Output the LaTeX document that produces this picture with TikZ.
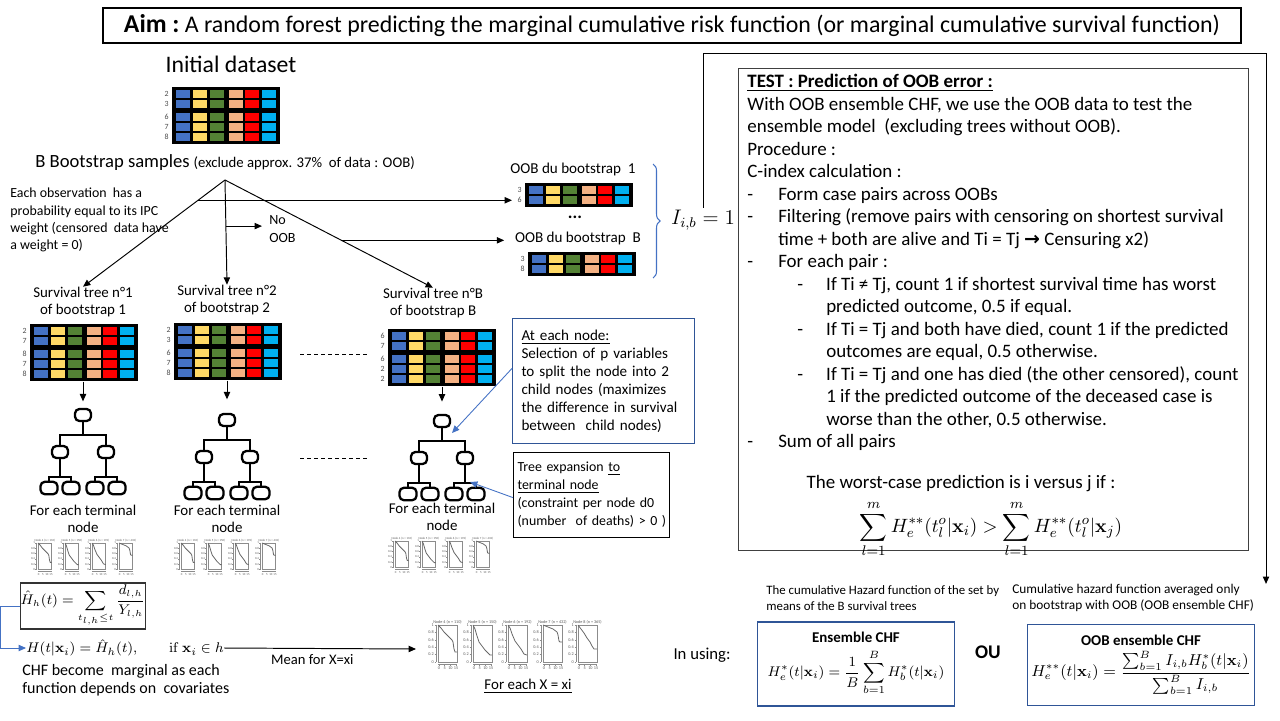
\documentclass[tikz,border=0pt]{standalone}
\usepackage{amsmath}
\usepackage[no-math]{fontspec}
\setmainfont{Carlito}
\newfontfamily\symfont{DejaVu Sans}
\usetikzlibrary{arrows.meta,positioning,calc,decorations.pathreplacing}

\definecolor{cblue}{HTML}{4472C4}
\definecolor{cyellow}{HTML}{FFD966}
\definecolor{cgreen}{HTML}{548235}
\definecolor{csalmon}{HTML}{F4B183}
\definecolor{cred}{HTML}{FF0000}
\definecolor{ccyan}{HTML}{00B0F0}
\definecolor{boxblue}{HTML}{2F5597}

\newcommand{\fs}[2]{\fontsize{#1}{#2}\selectfont}
\newcommand{\itemA}{\makebox[17.6pt][l]{-}}
\newcommand{\contA}{\hspace*{17.6pt}}
\newcommand{\itemB}{\hspace*{28.4pt}\makebox[16.5pt][l]{-}}
\newcommand{\contB}{\hspace*{44.9pt}}

% data table: name, x, y (top left), number of rows, row labels
\newcommand{\datatable}[5]{%
  \node[tablebg, anchor=north west, minimum height={(10*#4+4+3*(#4>2))*0.02cm}] (#1) at (#2,#3) {};
  \foreach \lab [count=\ri] in {#5} {
    \pgfmathsetmacro{\ry}{#3+7+10*(\ri-1)+3*(\ri>2)}
    \node[rowlab] (#1-\ri) at (#2-3,\ry) {\lab};
    \foreach \cx/\cc in {11/cblue,28/cyellow,45/cgreen,64/csalmon,80/cred,97/ccyan}
      \fill[\cc] (#2+\cx-7,\ry-4) rectangle (#2+\cx+7,\ry+4);
  }
}

% tree icon: name of root, x, y of root
\newcommand{\treeicon}[3]{%
  \begin{scope}[shift={(#2,#3)}]
    \node[tbox] (#1) at (0,0) {};
    \draw[tline] (0,6.5) -- (0,20);
    \draw[tline] (-23,30.5) |- (23,20) -- (23,30.5);
    \foreach \sg in {-1,1} {
      \node[tbox] at (23*\sg,37) {};
      \draw[tline] (23*\sg,43.5) -- (23*\sg,62);
      \draw[tline] (23*\sg-11,66.5) |- (23*\sg+11,62) -- (23*\sg+11,66.5);
      \node[lbox] at (23*\sg-11,73) {};
      \node[lbox] at (23*\sg+11,73) {};
    }
  \end{scope}}

% survival curve: x, y (top left of frame), scale, title, curve
\newcommand{\kmplot}[5]{%
  \begin{scope}[shift={(#1,#2)}, scale=#3,
      every node/.style={transform shape, inner sep=0pt, font=\fs{2.4}{2.6}, text=black!65}]
    \draw[pframe] (0,0) rectangle (19,37);
    \draw[pframe] (-2,0) -- (-2,37);
    \foreach \yv in {0,0.2,0.4,0.6,0.8,1} {
      \draw[pframe] (-3.5,{37*(1-\yv)}) -- (-2,{37*(1-\yv)});
      \node[anchor=east] at (-4,{37*(1-\yv)}) {\yv};
    }
    \draw[pframe] (0,39) -- (19,39);
    \foreach \xv/\xp in {0/1,5/6.7,10/12.4,15/18.1} {
      \draw[pframe] (\xp,39) -- (\xp,40.5);
      \node[anchor=north] at (\xp,41.5) {\xv};
    }
    \node[anchor=south] at (9.5,-0.8) {#4};
    \draw[pcurve] plot coordinates {#5};
  \end{scope}}

\def\curveA{(0,0) (3,3) (6,7) (9,10) (12,13) (14,15) (15,17) (16,24) (17,27) (19,27)}
\def\curveB{(0,0) (2,4) (4,11) (6,17) (9,21) (12,25) (15,28) (17,30) (19,30)}
\def\curveC{(0,0) (2,3) (4,9) (7,16) (10,20) (13,24) (16,29) (19,30)}
\def\curveD{(0,0) (5,2) (10,4) (14,7) (15,10) (16,16) (17,17) (19,17)}
\def\curveE{(0,0) (3,4) (6,8) (9,13) (12,17) (14,21) (16,24) (17,24) (19,24)}

\begin{document}
\begin{tikzpicture}[x=0.02cm, y=-0.02cm,
    arr/.style={-{Triangle[length=4.2pt,width=3.6pt]}, line width=0.55pt},
    bluearr/.style={arr, cblue, line width=0.5pt},
    txt/.style={inner sep=0pt, align=center, font=\fs{8.5}{9.7}},
    tablebg/.style={fill=black, inner sep=0pt, minimum width=108*0.02cm},
    rowlab/.style={anchor=east, inner sep=0pt, font=\fs{4.5}{5}, text=black!70},
    tbox/.style={draw, line width=1.3pt, rounded corners=2.5pt, inner sep=0pt,
      minimum width=0.32cm, minimum height=0.24cm},
    lbox/.style={tbox, minimum width=0.34cm, minimum height=0.25cm},
    tline/.style={line width=1.3pt},
    dashline/.style={dash pattern=on 2.3pt off 1.7pt, line width=0.5pt},
    pframe/.style={black!45, line width=0.25pt},
    pcurve/.style={black!60, line width=0.45pt},
    infobox/.style={draw, line width=0.6pt, anchor=north west, align=left,
      font=\fs{8.6}{10.2}},
    note/.style={anchor=west, align=left, inner sep=0pt, font=\fs{7.3}{9.1}},
    chfbox/.style={draw=boxblue, line width=0.7pt, align=center, inner sep=0pt}]

  \useasboundingbox (0,0) rectangle (1280,720);

  % title
  \node[draw, line width=0.8pt, minimum width=22.76cm, minimum height=0.7cm, inner sep=0pt] (title) at (672,25.5)
    {{\fs{14.6}{16}\bfseries Aim :} {\fs{13.6}{15}A random forest predicting the marginal cumulative risk function (or marginal cumulative survival function)}};

  % initial data and bootstrap
  \node[txt, font=\fs{13.5}{15}] (initlab) at (231,64) {Initial dataset};
  \datatable{init}{172}{87}{5}{2,3,6,7,8}
  \node[anchor=west, inner sep=0pt] (boot) at (35,163)
    {{\fs{10.6}{12}B Bootstrap samples} {\fs{8.4}{10}(exclude approx. 37\%\ \ of data : OOB)}};
  \node[anchor=north west, align=left, inner sep=0pt, font=\fs{7.9}{9.85}] (obs) at (10,188)
    {Each observation\ \ has a\\probability equal to its IPC\\weight (censored\ \ data have\\a weight = 0)};

  \coordinate (fan) at (225,180);
  \node[txt] (lab1) at (83,302) {Survival tree n°1\\of bootstrap 1};
  \node[txt] (lab2) at (227,300) {Survival tree n°2\\of bootstrap 2};
  \node[txt] (labB) at (433,303) {Survival tree n°B\\of bootstrap B};
  \node[anchor=west, align=left, inner sep=0pt, font=\fs{8}{10.2}] (noob) at (269,229) {No\\OOB};

  % out of bag samples
  \node[txt, font=\fs{8.6}{10}] (oobAlab) at (573,169) {OOB du bootstrap\ \ 1};
  \datatable{oobA}{525}{183}{2}{3,6}
  \node[txt, font=\fs{10}{12}] (dots) at (575,217) {\textbf{...}};
  \node[txt, font=\fs{8.6}{10}] (oobBlab) at (578,238) {OOB du bootstrap\ \ B};
  \datatable{oobB}{528}{252}{2}{3,8}
  \draw[cblue, line width=0.6pt, decorate, decoration={brace, amplitude=4pt}] (653,164) -- (653,278);
  \node[font=\fs{12}{14}, inner sep=1pt] (Iib) at (703,220) {$I_{i,b}=1$};

  % trees
  \datatable{tab1}{30}{324}{5}{2,7,8,7,8}
  \datatable{tab2}{174}{323}{5}{2,3,6,7,8}
  \datatable{tabB}{388}{329}{5}{6,7,6,2,2}
  \draw[dashline] (300,354) -- (367,354);
  \treeicon{tree1}{83}{415}
  \treeicon{tree2}{227}{420}
  \treeicon{treeB}{442}{421}
  \draw[dashline] (300,458) -- (367,458);
  \node[txt] (term1) at (83,519) {For each terminal\\node};
  \node[txt] (term2) at (227,519) {For each terminal\\node};
  \node[txt] (termB) at (442,517) {For each terminal\\node};
  \foreach \gx/\gy in {30/543,173/543,387/541} {
    \kmplot{\gx+8}{\gy}{0.72}{Node 4 (n = 110)}{\curveA}
    \kmplot{\gx+35}{\gy}{0.72}{Node 5 (n = 150)}{\curveB}
    \kmplot{\gx+62}{\gy}{0.72}{Node 6 (n = 192)}{\curveC}
    \kmplot{\gx+89}{\gy}{0.72}{Node 7 (n = 432)}{\curveD}
  }

  \node[infobox, draw=boxblue, text width=3.28cm, inner xsep=0.18cm, minimum height=2.5cm] (atnode) at (512,318)
    {\underline{At each node:}\\Selection of p variables\\to split the node into 2\\child nodes (maximizes\\the difference in survival\\between\ \ child nodes)};
  \node[infobox, font=\fs{7.9}{10.2}, text width=2.96cm, inner xsep=0.08cm, minimum height=1.7cm] (treeexp) at (513,452)
    {Tree expansion \underline{to}\\\underline{terminal node}\\\mbox{(constraint per node d0}\\\mbox{(number\ \ of deaths) > 0 )}};

  % terminal node hazard
  \node[draw=black!80, line width=1pt, minimum width=2.36cm, minimum height=0.92cm, inner sep=0pt, font=\fs{7.8}{9}] (hbox) at (83,606)
    {$\displaystyle\hat{H}_h(t)=\sum_{t_{l,h}\le t}\frac{d_{l,h}}{Y_{l,h}}$};
  \node[anchor=west, inner sep=0pt, font=\fs{8.3}{10}] (hx) at (26,648)
    {$H(t|\mathbf{x}_i)=\hat{H}_h(t),\qquad \mathrm{if}\ \mathbf{x}_i\in h$};
  \node[anchor=north west, align=left, inner sep=0pt, font=\fs{9.1}{10.2}] (chf) at (22,664)
    {CHF become\ \ marginal as each\\function depends on\ \ covariates};
  \coordinate (plots) at (416,649);
  \kmplot{438}{625}{1}{Node 4 (n = 110)}{\curveA}
  \kmplot{473}{625}{1}{Node 5 (n = 150)}{\curveB}
  \kmplot{508}{625}{1}{Node 6 (n = 192)}{\curveC}
  \kmplot{543}{625}{1}{Node 7 (n = 432)}{\curveD}
  \kmplot{578}{625}{1}{Node 8 (n = 365)}{\curveE}
  \node[txt] (eachx) at (528,686) {\underline{For each X = xi}};
  \node[txt, font=\fs{9.5}{11}] (inusing) at (702,655) {In using:};

  % ensemble functions
  \node[note] (settxt) at (766,598) {The cumulative Hazard function of the set by\\means of the B survival trees};
  \node[note, font=\fs{7.6}{9.1}] (oobtxt) at (1012,598) {Cumulative hazard function averaged only\\on bootstrap with OOB (OOB ensemble CHF)};
  \node[chfbox, minimum width=3.94cm, minimum height=1.68cm] (ens) at (856,664)
    {{\bfseries\fs{8.5}{10}Ensemble CHF}\\[3pt]
     {\fs{8}{10}$\displaystyle H_e^{*}(t|\mathbf{x}_i)=\frac{1}{B}\sum_{b=1}^{B}H_b^{*}(t|\mathbf{x}_i)$}};
  \node[font=\fs{11}{13}\bfseries, inner sep=0pt] (ou) at (988,652) {OU};
  \node[chfbox, minimum width=4.54cm, minimum height=1.62cm] (oobens) at (1141,665)
    {{\bfseries\fs{8.5}{10}OOB ensemble CHF}\\[2pt]
     {\fs{8.7}{10}$\displaystyle H_e^{**}(t|\mathbf{x}_i)=\frac{\sum_{b=1}^{B}I_{i,b}H_b^{*}(t|\mathbf{x}_i)}{\sum_{b=1}^{B}I_{i,b}}$}};

  % OOB test
  \node[draw=black!75, line width=0.6pt, anchor=north west, minimum width=10.2cm, minimum height=9.64cm, inner sep=0pt] (test) at (738,68) {};
  \node[anchor=north west, align=left, inner sep=0pt, font=\fs{10.8}{12.8}] (testtxt) at (747,74)
    {\underline{\textbf{TEST : Prediction of OOB error :}}\\
     With OOB ensemble CHF, we use the OOB data to test the\\
     ensemble model\ \ (excluding trees without OOB).\\
     Procedure :\\
     C-index calculation :\\
     \itemA Form case pairs across OOBs\\
     \itemA Filtering (remove pairs with censoring on shortest survival\\
     \contA time + both are alive and Ti = Tj {\symfont\bfseries →} Censuring x2)\\
     \itemA For each pair :\\
     \itemB If Ti ≠ Tj, count 1 if shortest survival time has worst\\
     \contB predicted outcome, 0.5 if equal.\\
     \itemB If Ti = Tj and both have died, count 1 if the predicted\\
     \contB outcomes are equal, 0.5 otherwise.\\
     \itemB If Ti = Tj and one has died (the other censored), count\\
     \contB 1 if the predicted outcome of the deceased case is\\
     \contB worse than the other, 0.5 otherwise.\\
     \itemA Sum of all pairs};
  \node[inner sep=0pt, font=\fs{10.8}{12}] (worst) at (961,484) {The worst-case prediction is i versus j if :};
  \node[inner sep=0pt, font=\fs{10.8}{12}] (crit) at (991,529)
    {$\displaystyle\sum_{l=1}^{m}H_e^{**}(t_l^o|\mathbf{x}_i)>\sum_{l=1}^{m}H_e^{**}(t_l^o|\mathbf{x}_j)$};

  % connectors
  \draw[arr] (fan) -- (lab1.north);
  \draw[arr] (fan) -- (lab2.north);
  \draw[arr] (fan) -- (labB.north);
  \coordinate (b1) at ($(fan)!0.19!(lab1.north)$);
  \coordinate (b2) at ($(fan)!0.56!(labB.north)$);
  \coordinate (b3) at ($(fan)!0.44!(lab2.north)$);
  \draw[arr, shorten >=3pt] (b1) -- (b1 -| oobA-2.west);
  \draw[arr, shorten >=6pt] (b2) -- (b2 -| oobBlab.west);
  \draw[arr, shorten >=4pt] (b3) -- (b3 -| noob.west);
  \draw[arr, shorten >=3.7pt] (tree1.north |- tab1.south) -- (tree1.north);
  \draw[arr, shorten >=7.7pt] (tree2.north |- tab2.south) -- (tree2.north);
  \draw[arr, shorten >=7pt] (treeB.north |- tabB.south) -- (treeB.north);
  \draw[bluearr] ($(atnode.north west)!0.4!(atnode.south west)$) -- ($(treeB)+(10,12)$);
  \draw[bluearr] ($(treeexp.north west)!0.53!(treeexp.south west)$) -- ($(treeB)+(28,61)$);
  \draw[bluearr] (hbox.west) -- ++(-19,0) |- (hx.west);
  \draw[arr] (hx.east) -- node[below=3pt, pos=0.46, inner sep=0pt, font=\fs{8.3}{10}] {Mean for X=xi} (plots);
  \coordinate (corner) at (1266,53);
  \draw[arr] (Iib.north) |- (corner) -- (corner |- oobtxt.north);
\end{tikzpicture}
\end{document}
